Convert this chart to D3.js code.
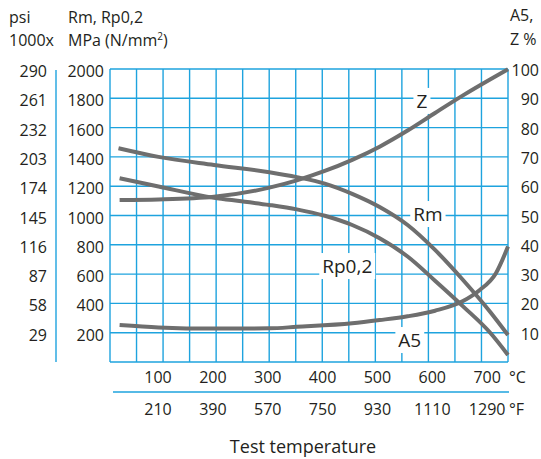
<!DOCTYPE html>
<html>
<head>
<meta charset="utf-8">
<script src="https://cdn.jsdelivr.net/npm/d3@7"></script>
<style>
  body { margin: 0; background: #fff; }
  text { font-family: "Open Sans", Lato, sans-serif; fill: #231f20; }
</style>
</head>
<body>
<div id="chart"></div>
<script>
// ------------------------------------
// Data
// ------------------------------------
// [temperature °C, value]
const rmData  = [[28,1459],[101,1400],[202,1345],[303,1295],[353,1262],[404,1218],[454,1148],[504,1058],[555,935],[605,765],[656,560],[706,340],[738,184]];
const rpData  = [[30,1254],[101,1198],[202,1121],[252,1097],[303,1072],[353,1042],[404,998],[454,935],[504,845],[555,720],[605,555],[656,380],[706,198],[738,48]];
const zData   = [[30,55.3],[101,55.5],[202,56.4],[303,59.5],[353,62.0],[404,65.2],[454,69.0],[504,73.5],[555,79.0],[605,85.0],[656,91.0],[706,96.5],[738,99.9]];
const a5Data  = [[30,12.6],[101,11.8],[202,11.4],[303,11.5],[353,12.0],[454,13.2],[504,14.3],[555,15.6],[605,17.5],[656,20.8],[686,24.5],[716,30.3],[738,39.4]];

const mpaTicks   = [200, 400, 600, 800, 1000, 1200, 1400, 1600, 1800, 2000];
const psiLabels  = [29, 58, 87, 116, 145, 174, 203, 232, 261, 290];
const pctTicks   = [10, 20, 30, 40, 50, 60, 70, 80, 90, 100];
const cTicks     = [100, 200, 300, 400, 500, 600, 700];
const fLabels    = [210, 390, 570, 750, 930, 1110, 1290];

// curve labels: [text, temp, MPa]
const curveLabels = [["Z", 581, 1782], ["Rm", 592, 1010], ["Rp0,2", 445, 655], ["A5", 559, 150]];

// ------------------------------------
// Layout
// ------------------------------------
const width = 541, height = 459;
const plotLeft = 110, plotRight = 508, plotTop = 69, plotBottom = 362;
const gridBlue = "#1ea3de";
const curveGrey = "#6e6e6e";
const fs = 16;

const svg = d3.select("#chart")
    .append("svg")
    .attr("width", width)
    .attr("height", height);

const x = d3.scaleLinear().domain([12.5, 738]).range([plotLeft, plotRight]);
const yMpa = d3.scaleLinear().domain([0, 2000]).range([plotBottom, plotTop]);
const yPct = d3.scaleLinear().domain([0, 100]).range([plotBottom, plotTop]);
const gridCols = d3.scaleLinear().domain([0, 15]).range([plotLeft, plotRight]);

const gridG = svg.append("g").attr("stroke", gridBlue).attr("stroke-width", 1.4);
const boxG = svg.append("g");
const curveG = svg.append("g");
const textG = svg.append("g");

// --------- GRID ----------
gridG.selectAll("line.h")
    .data(d3.range(0, 2001, 200))
    .enter().append("line")
    .attr("class", "h")
    .attr("x1", plotLeft).attr("x2", plotRight)
    .attr("y1", d => yMpa(d)).attr("y2", d => yMpa(d));

gridG.selectAll("line.v")
    .data(d3.range(0, 16))
    .enter().append("line")
    .attr("class", "v")
    .attr("y1", plotTop).attr("y2", plotBottom)
    .attr("x1", d => gridCols(d)).attr("x2", d => gridCols(d));

// psi axis line and °F axis line
gridG.append("line")
    .attr("x1", 56).attr("x2", 56)
    .attr("y1", plotTop + 1).attr("y2", plotBottom);

gridG.append("line")
    .attr("x1", 113).attr("x2", plotRight + 1)
    .attr("y1", 392).attr("y2", 392);

// --------- CURVE LABELS (white box hides grid) ----------
const labelTexts = textG.selectAll("text.curve-label")
    .data(curveLabels)
    .enter().append("text")
    .attr("class", "curve-label")
    .attr("x", d => x(d[1]))
    .attr("y", d => yMpa(d[2]) + 7)
    .attr("text-anchor", "middle")
    .attr("font-size", 19)
    .text(d => d[0]);

labelTexts.each(function () {
  const b = this.getBBox();
  boxG.append("rect")
      .attr("x", b.x - 3).attr("y", b.y)
      .attr("width", b.width + 6).attr("height", b.height)
      .attr("fill", "#fff");
});

// --------- CURVES ----------
const lineMpa = d3.line()
    .x(d => x(d[0])).y(d => yMpa(d[1]))
    .curve(d3.curveMonotoneX);
const linePct = d3.line()
    .x(d => x(d[0])).y(d => yPct(d[1]))
    .curve(d3.curveMonotoneX);

[[rmData, lineMpa], [rpData, lineMpa], [zData, linePct], [a5Data, linePct]].forEach(([data, gen]) => {
  curveG.append("path")
      .attr("d", gen(data))
      .attr("fill", "none")
      .attr("stroke", curveGrey)
      .attr("stroke-width", 4);
});

// --------- AXIS LABELS ----------
textG.append("g").selectAll("text")
    .data(mpaTicks)
    .enter().append("text")
    .attr("x", 104)
    .attr("y", d => yMpa(d) + 8)
    .attr("text-anchor", "end")
    .attr("font-size", fs)
    .text(d => d);

textG.append("g").selectAll("text")
    .data(psiLabels)
    .enter().append("text")
    .attr("x", 47)
    .attr("y", (d, i) => yMpa(mpaTicks[i]) + 8)
    .attr("text-anchor", "end")
    .attr("font-size", fs)
    .text(d => d);

textG.append("g").selectAll("text")
    .data(pctTicks)
    .enter().append("text")
    .attr("x", 539)
    .attr("y", d => yPct(d) + 7)
    .attr("text-anchor", "end")
    .attr("font-size", fs)
    .text(d => d);

textG.append("g").selectAll("text")
    .data(cTicks)
    .enter().append("text")
    .attr("x", d => x(d))
    .attr("y", 383)
    .attr("text-anchor", "middle")
    .attr("font-size", fs)
    .text(d => d);

textG.append("g").selectAll("text")
    .data(fLabels)
    .enter().append("text")
    .attr("x", (d, i) => x(cTicks[i]))
    .attr("y", 415)
    .attr("text-anchor", "middle")
    .attr("font-size", fs)
    .text(d => d);

textG.append("text").attr("x", 509).attr("y", 383).attr("font-size", fs).text("°C");
textG.append("text").attr("x", 509).attr("y", 415).attr("font-size", fs).text("°F");

textG.append("text")
    .attr("x", 303).attr("y", 453)
    .attr("text-anchor", "middle")
    .attr("font-size", 18)
    .text("Test temperature");

// header labels
textG.append("text").attr("x", 9).attr("y", 23).attr("font-size", fs).text("psi");
textG.append("text").attr("x", 9).attr("y", 46).attr("font-size", fs).text("1000x");
textG.append("text").attr("x", 68).attr("y", 23).attr("font-size", fs).text("Rm, Rp0,2");
const mpa = textG.append("text").attr("x", 68).attr("y", 46).attr("font-size", fs);
mpa.append("tspan").text("MPa (N/mm");
mpa.append("tspan").attr("font-size", 10).attr("dy", -6).text("2");
mpa.append("tspan").attr("dy", 6).text(")");
textG.append("text").attr("x", 510).attr("y", 21).attr("font-size", fs).text("A5,");
textG.append("text").attr("x", 510).attr("y", 45).attr("font-size", fs).text("Z %");
</script>
</body>
</html>
